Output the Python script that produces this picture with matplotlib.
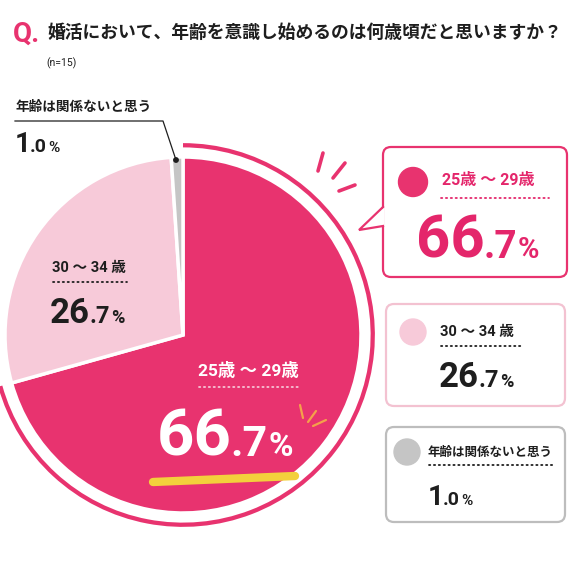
import matplotlib.pyplot as plt
from matplotlib.patches import FancyBboxPatch, Circle, Polygon

labels = ["25歳 ～ 29歳", "30 ～ 34 歳", "年齢は関係ないと思う"]
values = [66.7, 26.7, 1.0]
colors = ["#E8336F", "#F7CAD9", "#C5C5C5"]
title = "婚活において、年齢を意識し始めるのは何歳頃だと思いますか？"
note = "(n=15)"

W, H = 579, 578
FONT = ["Roboto", "Noto Sans CJK JP", "DejaVu Sans"]
JP = ["Noto Sans CJK JP", "DejaVu Sans"]
DARK = "#1E1E1E"
PINK_TEXT = "#E4266B"

fig = plt.figure(figsize=(W / 100, H / 100), dpi=100)
fig.patch.set_facecolor("white")

# pie axes, centre (183, 335) px from top, radius 178 px
cx, cy, R = 183, 335, 178
half = 1.1 * R
pax = fig.add_axes([(cx - half) / W, (H - cy - half) / H, 2 * half / W, 2 * half / H])
pax.pie(values, colors=colors, startangle=90, counterclock=False, radius=1.0,
        wedgeprops=dict(edgecolor="white", linewidth=2.5))
ring_colors = [colors[0], "none", "none"]
pax.pie(values, colors=ring_colors, startangle=90, counterclock=False, radius=1.078,
        wedgeprops=dict(width=0.024, edgecolor="none"))
pax.set_xlim(-1.1, 1.1)
pax.set_ylim(-1.1, 1.1)
pax.axis("off")

# overlay axes in pixel coordinates
ax = fig.add_axes([0, 0, 1, 1])
ax.set_xlim(0, W)
ax.set_ylim(H, 0)
ax.axis("off")
ax.patch.set_alpha(0)

renderer = fig.canvas.get_renderer()


def pct(x, y, big, small, sb, ss, color, sp, kern=0.03):
    t = ax.text(x, y, big, fontsize=sb, color=color, family=FONT, weight="bold",
                ha="left", va="baseline")
    bb = t.get_window_extent(renderer).transformed(ax.transData.inverted())
    x1 = bb.x1 - sb * kern
    dot, num = small[:-1], small[-1]
    t2 = ax.text(x1, y, dot, fontsize=ss, color=color, family=FONT, weight="bold",
                 ha="left", va="baseline")
    bb2 = t2.get_window_extent(renderer).transformed(ax.transData.inverted())
    ax.text(bb2.x1 + 1, y, num, fontsize=sp, color=color,
            family=FONT, weight="bold", ha="left", va="baseline")


def dotted(x0, x1, y, color):
    ax.plot([x0, x1], [y, y], color=color, lw=1.3, linestyle=(0, (0.7, 2.0)),
            dash_capstyle="round")


# title
ax.text(13, 34, "Q.", fontsize=20, color=colors[0], family=FONT, weight="bold",
        ha="left", va="center")
ax.text(47, 33, title, fontsize=12.8, color=DARK, family=JP, weight="bold",
        ha="left", va="center")
ax.text(46, 63, note, fontsize=7.5, color=DARK, family=FONT, ha="left", va="center")

# left label for the grey slice
ax.text(16, 107, labels[2], fontsize=9.8, color=DARK, family=JP, weight="bold",
        ha="left", va="center")
ax.plot([15, 163, 176], [121, 121, 160], color=DARK, lw=0.9)
ax.add_patch(Circle((176, 160), 2.2, color=DARK))
pct(15, 152, "1", ".0%", 20, 14, DARK, 11, kern=0.05)

# label inside light slice
ax.text(52, 268, labels[1], fontsize=10.5, color=DARK, family=FONT, weight="bold",
        ha="left", va="center")
dotted(53, 127, 282, DARK)
pct(50, 323, "26", ".7%", 25, 17, DARK, 13)

# label inside main slice
ax.text(198, 370, labels[0], fontsize=12.5, color="white", family=FONT, weight="bold",
        ha="left", va="center")
dotted(199, 300, 387, "#F7C3D4")
ax.plot([153, 295], [482, 476], color="#F3D03C", lw=6, solid_capstyle="round", zorder=2)
pct(157, 456, "66", ".7%", 47, 31, "white", 24)
for (x0, y0), (x1, y1) in [((300, 405), (303, 418)), ((316, 411), (308, 422)),
                           ((326, 420), (313, 426))]:
    ax.plot([x0, x1], [y0, y1], color="#F4A14A", lw=1.6, solid_capstyle="round")

# burst strokes next to the pie
for (x0, y0), (x1, y1) in [((323, 153), (318, 171)), ((345, 163), (333, 178)),
                           ((355, 185), (339, 191))]:
    ax.plot([x0, x1], [y0, y1], color=colors[0], lw=2.6, solid_capstyle="round")

# legend boxes
boxes = [(383, 147, 567, 277), (386, 304, 565, 406), (386, 427, 565, 522)]
borders = [colors[0], "#F3C2D1", "#BDBDBD"]
for (x0, y0, x1, y1), ec in zip(boxes, borders):
    ax.add_patch(FancyBboxPatch((x0, y0), x1 - x0, y1 - y0,
                                boxstyle="round,pad=0,rounding_size=8",
                                facecolor="white", edgecolor=ec, lw=1.6))

# pointer of the first box
ax.add_patch(Polygon([(384.5, 207), (359, 230), (384.5, 226)], closed=True,
                     facecolor="white", edgecolor="none", zorder=3))
ax.plot([383, 359, 383], [207, 230, 226], color=colors[0], lw=1.6, zorder=4,
        solid_joinstyle="miter")

# box contents
ax.add_patch(Circle((413, 182), 14.5, color=colors[0]))
ax.text(442, 181, labels[0], fontsize=11.5, color=PINK_TEXT, family=FONT,
        weight="bold", ha="left", va="center")
dotted(441, 549, 198, PINK_TEXT)
pct(416, 258, "66", ".7%", 43, 28, PINK_TEXT, 21)

ax.add_patch(Circle((413, 332), 13, color=colors[1]))
ax.text(440, 332, labels[1], fontsize=10.5, color=DARK, family=FONT,
        weight="bold", ha="left", va="center")
dotted(441, 523, 346, DARK)
pct(439, 387, "26", ".7%", 25, 17, DARK, 13)

ax.add_patch(Circle((407, 452), 13, color=colors[2]))
ax.text(428, 452, labels[2], fontsize=9, color=DARK, family=JP,
        weight="bold", ha="left", va="center")
dotted(429, 553, 465, DARK)
pct(428, 505, "1", ".0%", 20, 14, DARK, 11, kern=0.05)

fig.savefig("out.png", dpi=100, facecolor="white")
